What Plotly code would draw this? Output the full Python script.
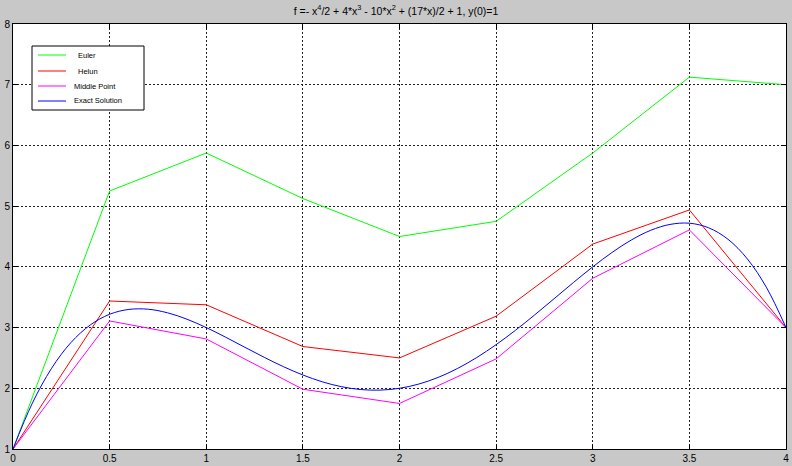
import plotly.graph_objects as go

x_steps = [0, 0.5, 1, 1.5, 2, 2.5, 3, 3.5, 4]
euler = [1, 5.25, 5.875, 5.125, 4.5, 4.75, 5.875, 7.125, 7.0]
heun = [1, 3.4375, 3.375, 2.6875, 2.5, 3.1875, 4.375, 4.9375, 3.0]
midpoint = [1, 3.109, 2.8125, 1.984, 1.75, 2.484, 3.8125, 4.609, 3.0]

x_exact = [0, 0.1, 0.2, 0.3, 0.4, 0.5, 0.6, 0.7, 0.8, 0.9, 1.0, 1.1, 1.2, 1.3, 1.4,
           1.5, 1.6, 1.7, 1.8, 1.9, 2.0, 2.1, 2.2, 2.3, 2.4, 2.5, 2.6, 2.7, 2.8, 2.9,
           3.0, 3.1, 3.2, 3.3, 3.4, 3.5, 3.6, 3.7, 3.8, 3.9, 4.0]
y_exact = [1.0, 1.754, 2.331, 2.754, 3.043, 3.219, 3.299, 3.302, 3.243, 3.138, 3.0,
           2.842, 2.675, 2.510, 2.355, 2.219, 2.107, 2.026, 1.979, 1.970, 2.0,
           2.070, 2.179, 2.326, 2.507, 2.719, 2.955, 3.210, 3.475, 3.742, 4.0,
           4.238, 4.443, 4.602, 4.699, 4.719, 4.643, 4.454, 4.131, 3.654, 3.0]

x_ticks = [0, 0.5, 1, 1.5, 2, 2.5, 3, 3.5, 4]
x_ticklabels = ["0", "0.5", "1", "1.5", "2", "2.5", "3", "3.5", "4"]
y_ticks = [1, 2, 3, 4, 5, 6, 7, 8]

names = ["Euler", "Helun", "Middle Point", "Exact Solution"]
colors = ["#00ff00", "#ff0000", "#ff00ff", "#0000ff"]

W, H = 792, 466
L, R, T, B = 13, 6, 24, 17
PW, PH = W - L - R, H - T - B


def px(xp):
    return (xp - L) / PW


def py(yp):
    return 1 - (yp - T) / PH


fig = go.Figure()
fig.add_trace(go.Scatter(x=x_steps, y=euler, mode="lines", name=names[0],
                         line=dict(color=colors[0], width=1)))
fig.add_trace(go.Scatter(x=x_steps, y=heun, mode="lines", name=names[1],
                         line=dict(color=colors[1], width=1)))
fig.add_trace(go.Scatter(x=x_steps, y=midpoint, mode="lines", name=names[2],
                         line=dict(color=colors[2], width=1)))
fig.add_trace(go.Scatter(x=x_exact, y=y_exact, mode="lines", name=names[3],
                         line=dict(color=colors[3], width=1, shape="spline", smoothing=1)))

axis_common = dict(
    showline=True, linecolor="black", linewidth=1, mirror="ticks",
    ticks="inside", ticklen=5, tickcolor="black",
    showgrid=True, gridcolor="#222222", gridwidth=1, griddash="2px,2px",
    zeroline=False, tickfont=dict(size=10, color="black"), automargin=False,
)

# manual legend (MATLAB style box)
shapes = [dict(type="rect", xref="paper", yref="paper",
               x0=px(32), x1=px(144), y0=py(110), y1=py(46),
               line=dict(color="black", width=1), fillcolor="white", layer="above")]
annotations = []
row_y = [55, 71, 86, 101]
text_x = [76, 76, 72, 72]
for i in range(4):
    shapes.append(dict(type="line", xref="paper", yref="paper",
                       x0=px(38), x1=px(66), y0=py(row_y[i]), y1=py(row_y[i]),
                       line=dict(color=colors[i], width=1), layer="above"))
    annotations.append(dict(xref="paper", yref="paper", x=px(text_x[i]), y=py(row_y[i]),
                            text=names[i], showarrow=False, xanchor="left", yanchor="middle",
                            font=dict(size=7.5, color="black")))

fig.update_layout(
    width=W, height=H,
    margin=dict(l=L, r=R, t=T, b=B, autoexpand=False),
    paper_bgcolor="#c8c8c8", plot_bgcolor="white",
    font=dict(family="Arial, Liberation Sans, sans-serif", color="black"),
    title=dict(text="f =- x<sup>4</sup>/2 + 4*x<sup>3</sup> - 10*x<sup>2</sup> + (17*x)/2 + 1, y(0)=1",
               x=0.5, xanchor="center", y=1 - 11 / H, yanchor="middle",
               font=dict(size=10.5, color="black")),
    xaxis=dict(range=[0, 4], tickvals=x_ticks, ticktext=x_ticklabels, **axis_common),
    yaxis=dict(range=[1, 8], tickvals=y_ticks, **axis_common),
    shapes=shapes,
    annotations=annotations,
    showlegend=False,
)

fig.write_html("out.html", config={"displayModeBar": False})

with open("out.html", "r", encoding="utf-8") as f:
    html = f.read()
html = html.replace("<head>", "<head><style>html,body{margin:0;padding:0;overflow:hidden;}</style>", 1)
with open("out.html", "w", encoding="utf-8") as f:
    f.write(html)
